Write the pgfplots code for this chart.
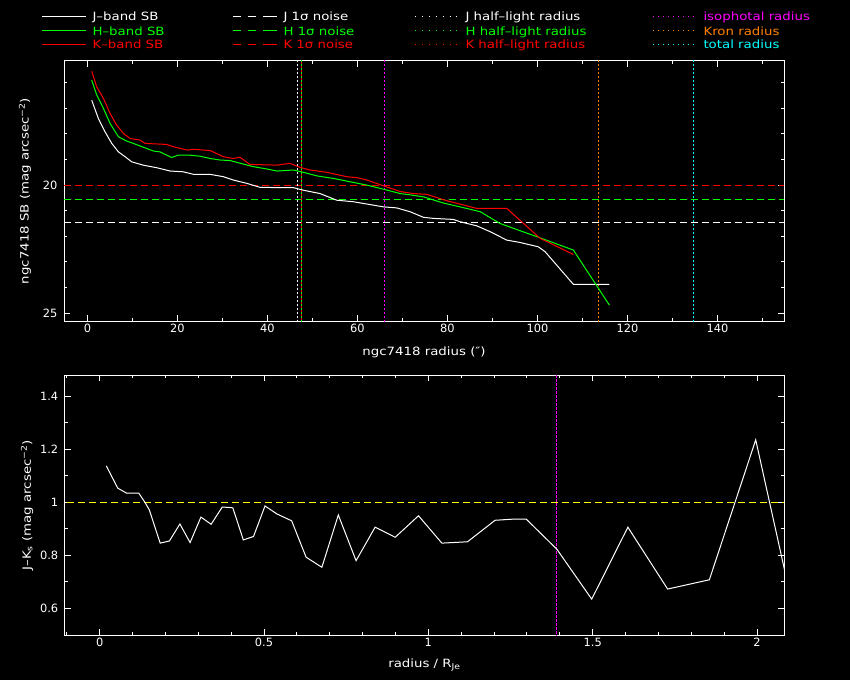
\documentclass[border=0pt]{standalone}
\usepackage{pgfplots}
\pgfplotsset{compat=1.18}
\usepackage{fontspec}
\setmainfont{DejaVu Sans}[FakeStretch=1.17]
\newfontfamily\tickfont{DejaVu Sans}
\definecolor{gr}{RGB}{0,255,0}
\definecolor{rd}{RGB}{255,0,0}
\definecolor{mg}{RGB}{255,0,255}
\definecolor{og}{RGB}{255,128,0}
\definecolor{cy}{RGB}{0,255,255}
\definecolor{yl}{RGB}{255,255,0}
\newcommand{\fs}{\fontsize{11.4}{13}\selectfont}
\pgfplotsset{
  pgstyle/.style={
    scale only axis,
    axis line style={white, line width=1pt},
    every tick/.style={white, line width=1pt},
    major tick length=6pt, minor tick length=3pt,
    tick align=inside,
    tick label style={white, font=\tickfont\fs},
    /pgf/number format/assume math mode=true,
    clip=true,
  }
}
\begin{document}
\begin{tikzpicture}
\fill[black] (0,0) rectangle (850pt,680pt);
\useasboundingbox (0,0) rectangle (850pt,680pt);
% ---- legend ----
\begin{scope}[font=\fs, line width=1pt]
\foreach \yy/\cc/\ll in {663.3/white/J, 649/gr/H, 635.7/rd/K}{
  \draw[\cc] (42pt,\yy pt) -- (86pt,\yy pt);
  \node[\cc, anchor=base west, inner sep=0pt] at (92pt,\yy pt-4.1pt) {\ll–band SB};
  \draw[\cc, dash pattern=on 7.5pt off 7.5pt on 1.5pt off 20pt] (233pt,\yy pt) -- (277pt,\yy pt);
  \draw[\cc, dash pattern=on 7.5pt off 7.5pt] (233pt,\yy pt) -- (270pt,\yy pt);
  \node[\cc, anchor=base west, inner sep=0pt] at (283pt,\yy pt-4.1pt) {\ll\ 1σ noise};
  \draw[\cc, dash pattern=on 1.3pt off 5.6pt] (415pt,\yy pt) -- (457pt,\yy pt);
  \node[\cc, anchor=base west, inner sep=0pt] at (465pt,\yy pt-4.1pt) {\ll\ half–light radius};
}
\foreach \yy/\cc/\tt in {663.3/mg/isophotal radius, 649/og/Kron radius, 635.7/cy/total radius}{
  \draw[\cc, dash pattern=on 1.3pt off 3.7pt] (653pt,\yy pt) -- (694pt,\yy pt);
  \node[\cc, anchor=base west, inner sep=0pt] at (703pt,\yy pt-4.1pt) {\tt};
}
\end{scope}
% ---- top axis ----
\begin{axis}[pgstyle,
  at={(64pt,359pt)}, anchor=south west,
  width=720pt, height=260pt,
  xmin=-5.2, xmax=154.8, ymin=15.15, ymax=25.31, y dir=reverse,
  xtick={0,20,...,140}, minor xtick={10,30,...,150},
  ytick={20,25}, minor ytick={16,17,18,19,21,22,23,24},
  yticklabel style={xshift=-3pt},
  xlabel={ngc7418 radius (″)},
  ylabel={ngc7418 SB (mag arcsec\textsuperscript{−2})},
  xlabel style={white, font=\fs, at={(axis description cs:0.5,-0.119)}, anchor=center},
  ylabel style={white, font=\fs, at={(axis description cs:-0.0542,0.5)}, rotate=0, anchor=center},
]
% noise
\addplot[white, line width=1pt, dash pattern=on 7pt off 4pt] coordinates {(-10,21.46) (160,21.46)};
\addplot[gr, line width=1pt, dash pattern=on 7pt off 4pt] coordinates {(-10,20.56) (160,20.56)};
\addplot[rd, line width=1pt, dash pattern=on 7pt off 4pt] coordinates {(-10,20.0) (160,20.0)};
% radii
\addplot[white, line width=1pt, dash pattern=on 2pt off 2pt] coordinates {(46.7,14) (46.7,26)};
\addplot[gr, line width=1pt, dash pattern=on 2pt off 2pt] coordinates {(47.5,14) (47.5,26)};
\addplot[rd, line width=1pt, dash pattern=on 2pt off 2pt, dash phase=2pt] coordinates {(47.5,14) (47.5,26)};
\addplot[mg, line width=1pt, dash pattern=on 2.5pt off 1.5pt] coordinates {(66.0,14) (66.0,26)};
\addplot[og, line width=1pt, dash pattern=on 2.5pt off 1.5pt] coordinates {(113.6,14) (113.6,26)};
\addplot[cy, line width=1pt, dash pattern=on 2.5pt off 1.5pt] coordinates {(134.7,14) (134.7,26)};
% J
\addplot[white, line width=1pt] coordinates {
(0.96,16.68) (2.44,17.40) (3.93,17.92) (5.41,18.37) (6.89,18.70) (8.37,18.89) (9.85,19.09)
(12.4,19.22) (15.4,19.32) (18.4,19.45) (21.3,19.48) (23.6,19.58) (27.3,19.58) (30.2,19.67)
(32.4,19.80) (35.4,19.93) (38.4,20.09) (45.8,20.10) (48.0,20.20) (51.7,20.33) (55.4,20.59)
(59.1,20.65) (65.8,20.85) (68.7,20.89) (71.7,21.04) (74.7,21.26) (76.9,21.30) (81.3,21.34)
(82.8,21.43) (86.5,21.59) (89.5,21.82) (93.2,22.15) (96.1,22.24) (100.2,22.41) (101.7,22.60)
(108.0,23.88) (116.0,23.88)};
% H
\addplot[gr, line width=1pt] coordinates {
(0.96,15.90) (2.07,16.48) (3.56,17.00) (5.04,17.59) (6.89,18.11) (8.74,18.28) (10.2,18.37)
(13.2,18.57) (14.7,18.67) (16.1,18.70) (18.7,18.92) (20.2,18.83) (22.8,18.83) (25.0,18.87)
(27.3,18.96) (29.5,19.02) (31.7,19.04) (34.7,19.18) (36.9,19.28) (39.9,19.37) (42.1,19.45)
(45.8,19.41) (48.0,19.50) (51.0,19.64) (54.7,19.74) (58.4,19.87) (62.1,20.00) (65.8,20.16)
(69.5,20.33) (71.7,20.38) (74.7,20.46) (79.1,20.70) (82.8,20.85) (87.3,21.04) (91.7,21.50)
(94.7,21.69) (100.6,22.06) (108.0,22.54) (116.0,24.69)};
% K
\addplot[rd, line width=1pt] coordinates {
(0.96,15.55) (2.07,16.16) (3.56,16.61) (5.04,17.20) (6.52,17.66) (8.0,17.98) (9.48,18.18)
(11.7,18.24) (12.8,18.37) (17.6,18.41) (19.1,18.50) (22.1,18.63) (23.6,18.60) (27.3,18.65)
(30.2,18.89) (32.4,18.96) (33.9,18.91) (36.1,19.19) (42.1,19.22) (45.0,19.15) (47.3,19.31)
(49.5,19.41) (53.2,19.50) (57.6,19.67) (59.9,19.71) (62.1,19.80) (65.8,20.03) (69.5,20.25)
(72.4,20.33) (75.4,20.36) (79.85,20.61) (86.5,20.91) (93.2,20.91) (100.6,22.08) (108.0,22.71)};
\end{axis}
% ---- bottom axis ----
\begin{axis}[pgstyle,
  at={(64.7pt,45pt)}, anchor=south west,
  width=719.6pt, height=259.7pt,
  xmin=-0.1065, xmax=2.083, ymin=0.5, ymax=1.478,
  xtick={0,0.5,1,1.5,2},
  minor xtick={-0.1,0.1,0.2,0.3,0.4,0.6,0.7,0.8,0.9,1.1,1.2,1.3,1.4,1.6,1.7,1.8,1.9},
  ytick={0.6,0.8,1,1.2,1.4}, minor ytick={0.5,0.7,0.9,1.1,1.3},
  yticklabel style={xshift=-3pt},
  xlabel={radius / R\textsubscript{Je}},
  ylabel={J–K\textsubscript{s} (mag arcsec\textsuperscript{−2})},
  xlabel style={white, font=\fs, at={(axis description cs:0.5,-0.1155)}, anchor=center},
  ylabel style={white, font=\fs, at={(axis description cs:-0.0524,0.5)}, rotate=0, anchor=center},
]
\addplot[yl, line width=1pt, dash pattern=on 7pt off 4pt] coordinates {(-0.2,1) (2.2,1)};
\addplot[mg, line width=1pt, dash pattern=on 2.5pt off 1.5pt] coordinates {(1.391,0.4) (1.391,1.6)};
\addplot[white, line width=1pt] coordinates {
(0.020,1.137) (0.055,1.053) (0.082,1.034) (0.119,1.034) (0.138,0.999) (0.151,0.971)
(0.184,0.846) (0.212,0.854) (0.244,0.918) (0.275,0.848) (0.308,0.944) (0.339,0.917)
(0.373,0.982) (0.405,0.979) (0.437,0.858) (0.468,0.871) (0.503,0.986) (0.539,0.956)
(0.584,0.930) (0.628,0.793) (0.676,0.755) (0.726,0.952) (0.780,0.780) (0.838,0.906)
(0.899,0.868) (0.970,0.949) (1.041,0.846) (1.119,0.851) (1.203,0.932) (1.254,0.936)
(1.298,0.936) (1.391,0.823) (1.497,0.635) (1.607,0.906) (1.728,0.673) (1.855,0.708)
(1.996,1.235) (2.10,0.654)};
\end{axis}
\end{tikzpicture}
\end{document}
